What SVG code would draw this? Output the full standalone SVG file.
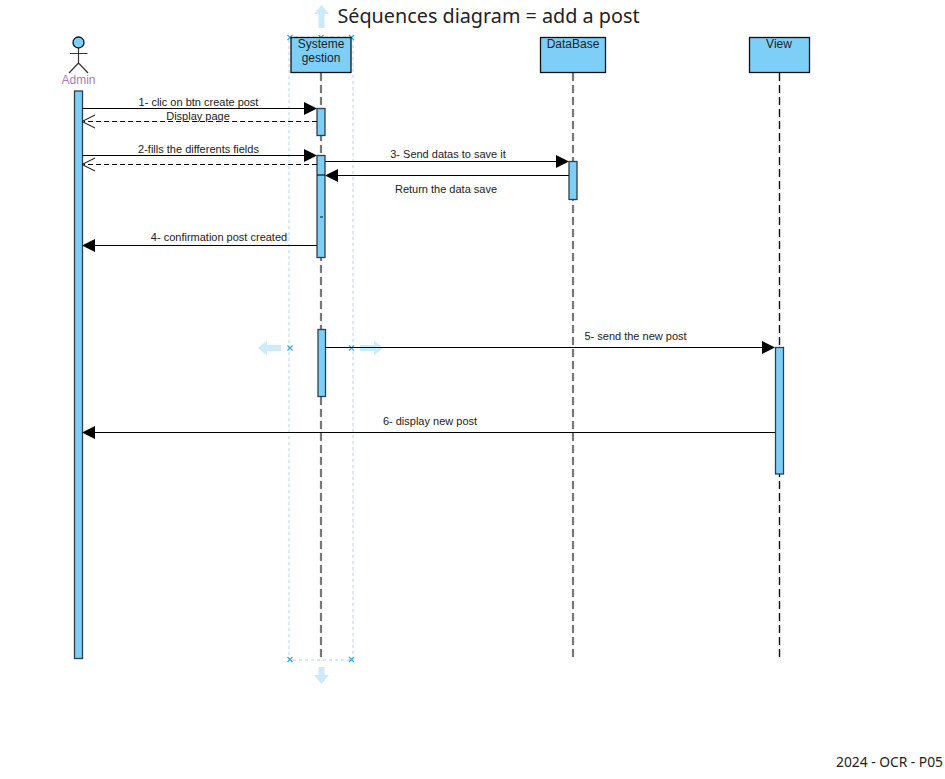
<svg xmlns="http://www.w3.org/2000/svg" width="945" height="779" viewBox="0 0 945 779">
<style>
text{font-family:"Liberation Sans",Arial,sans-serif;fill:#222;}
.lbl{font-size:11px;text-anchor:middle;}
.head{font-size:12px;text-anchor:middle;}
.box{fill:#7dcff7;stroke:#111;stroke-width:1.3;}
.act{fill:#7dcff7;stroke:#2f3f4a;stroke-width:1.3;}
.life{stroke:#111;stroke-width:1.4;stroke-dasharray:8 4;fill:none;}
.lifeg{stroke:#777;stroke-width:2.200;stroke-dasharray:8 4;fill:none;}
.msg{stroke:#000;stroke-width:1.200;fill:none;}
.ret{stroke:#000;stroke-width:1.200;stroke-dasharray:5 3;fill:none;}
.ah{fill:#000;stroke:none;}
.oh{fill:none;stroke:#000;stroke-width:1;}
.sel{fill:none;stroke:#a8d8ea;stroke-width:1;stroke-dasharray:3 3;}
.x{stroke:#3aa6dc;stroke-width:1.200;fill:none;}
.ga{fill:#cdeaf9;stroke:none;}
</style>
<rect width="945" height="779" fill="#fff"/>
<g id="title"><text x="488.500" y="23" style="font-family:'Noto Sans','Open Sans',sans-serif;font-size:19.800px;text-anchor:middle;fill:#222">Séquences diagram = add a post</text></g>
<g id="footer"><text x="889.500" y="767" style="font-family:'Noto Sans','Open Sans',sans-serif;font-size:13.800px;text-anchor:middle;fill:#222">2024 - OCR - P05</text></g>
<g id="selection">
<rect class="sel" x="289" y="37" width="64" height="623"/>
<path class="x" d="M287.500 35l5 5m0-5l-5 5M318.500 35l5 5m0-5l-5 5M349 35l5 5m0-5l-5 5M287.500 345.500l5 5m0-5l-5 5M349 345.500l5 5m0-5l-5 5M287.500 657l5 5m0-5l-5 5M349 657l5 5m0-5l-5 5"/>
<path class="ga" d="M321.500 5l7.500 9h-4.500v14h-6v-14h-4.500zM258 348l9-7.500v4.500h14v6h-14v4.500zM383 348l-9-7.500v4.500h-14v6h14v4.500zM321.500 684l7.500-9h-4.500v-8h-6v8h-4.500z"/>
</g>
<g id="admin">
<circle cx="78.500" cy="42.500" r="5.500" class="box"/>
<path d="M78.500 48v15M70 53.500h17.500M78.500 63l-9.500 10M78.500 63l9.500 10" stroke="#333" stroke-width="1.200" fill="none"/>
<text x="78.500" y="83.500" style="font-size:12px;text-anchor:middle;fill:#b07ab8">Admin</text>
<rect class="act" x="74.500" y="91" width="8" height="567.500"/>
</g>
<g id="systeme">
<path class="lifeg" d="M321 73V660"/>
<rect class="box" x="291" y="37.500" width="60" height="35"/>
<text class="head" x="321" y="48">Systeme</text>
<text class="head" x="321" y="62">gestion</text>
<rect class="act" x="317" y="108.500" width="8" height="27"/>
<rect class="act" x="317" y="155.500" width="8" height="102"/>
<path d="M317 175h8" stroke="#111" stroke-width="1.200"/>
<path d="M320 217h3" stroke="#111" stroke-width="1"/>
<rect class="act" x="318" y="329.500" width="7.500" height="67"/>
</g>
<g id="database">
<path class="lifeg" d="M573 73V660"/>
<rect class="box" x="540.500" y="37.500" width="65" height="35"/>
<text class="head" x="573" y="48">DataBase</text>
<rect class="act" x="569" y="161.500" width="8" height="38"/>
</g>
<g id="view">
<path class="life" d="M779.500 73V660"/>
<rect class="box" x="749.500" y="37.500" width="60" height="35"/>
<text class="head" x="779" y="48">View</text>
<rect class="act" x="775.500" y="347.500" width="8" height="126.500"/>
</g>
<g id="connectors">
<path class="msg" d="M82 108.500H305"/><path class="ah" d="M304 102l13 6.500-13 6.500z"/>
<path class="ret" d="M317 121.500H84"/><path class="oh" d="M95 115l-13 6.500 13 6.500"/>
<path class="msg" d="M82 155.500H305"/><path class="ah" d="M304 149l13 6.500-13 6.500z"/>
<path class="ret" d="M317 164.500H84"/><path class="oh" d="M95 158l-13 6.500 13 6.500"/>
<path class="msg" d="M325 161.500H557"/><path class="ah" d="M556 155l13 6.500-13 6.500z"/>
<path class="msg" d="M569 175.500H337"/><path class="ah" d="M338 169l-13 6.500 13 6.500z"/>
<path class="msg" d="M317 245.500H94"/><path class="ah" d="M95 239l-13 6.500 13 6.500z"/>
<path class="msg" d="M325 347.500H763"/><path class="ah" d="M762 341l13 6.500-13 6.500z"/>
<path class="msg" d="M775 432.500H94"/><path class="ah" d="M95 426l-13 6.500 13 6.500z"/>
</g>
<g id="labels">
<text class="lbl" x="198.500" y="106">1- clic on btn create post</text>
<text class="lbl" x="198" y="119.500">Display page</text>
<text class="lbl" x="198.500" y="153">2-fills the differents fields</text>
<text class="lbl" x="448" y="158">3- Send datas to save it</text>
<text class="lbl" x="446" y="193">Return the data save</text>
<text class="lbl" x="219" y="241">4- confirmation post created</text>
<text class="lbl" x="635.500" y="340">5- send the new post</text>
<text class="lbl" x="430" y="425">6- display new post</text>
</g>
</svg>
